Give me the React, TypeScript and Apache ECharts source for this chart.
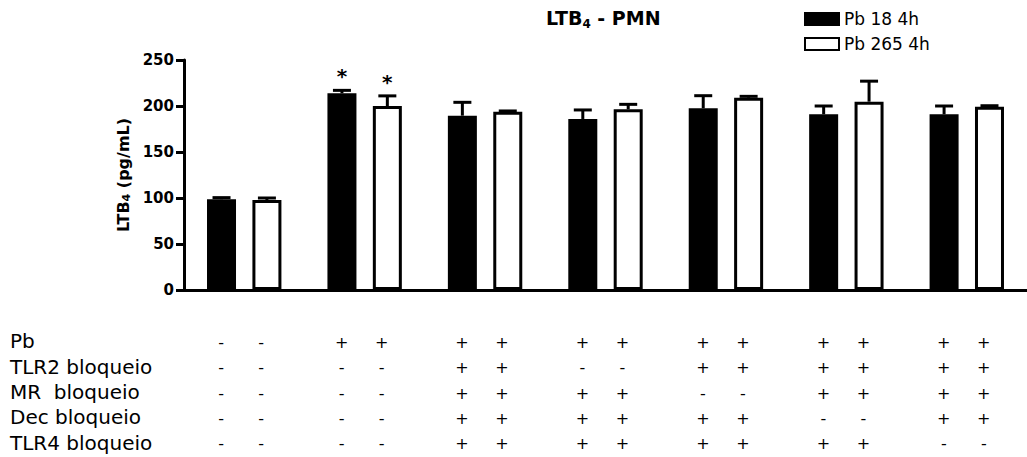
import React, { useEffect, useRef } from "react";
import * as echarts from "echarts";

// Group categories (one per treatment condition)
const groups = ["G1", "G2", "G3", "G4", "G5", "G6", "G7"];
const seriesNames = ["Pb 18 4h", "Pb 265 4h"];

// LTB4 (pg/mL) means and SEM
const pb18Values = [98.6, 213.8, 189.5, 185.9, 197.5, 191, 191];
const pb18Errors = [1.8, 3.2, 14.5, 9.8, 13.7, 9, 9];
const pb265Values = [97.8, 200, 193.8, 196.4, 209, 204.7, 199.3];
const pb265Errors = [2.2, 11, 0.8, 5.4, 1.5, 22.3, 1];
const pb18Significant = [false, true, false, false, false, false, false];
const pb265Significant = [false, true, false, false, false, false, false];

// Treatment table under the chart
const rowLabels = ["Pb", "TLR2 bloqueio", "MR  bloqueio", "Dec bloqueio", "TLR4 bloqueio"];
const rowPb = ["-", "+", "+", "+", "+", "+", "+"];
const rowTlr2 = ["-", "-", "+", "-", "+", "+", "+"];
const rowMr = ["-", "-", "+", "+", "-", "+", "+"];
const rowDec = ["-", "-", "+", "+", "+", "-", "+"];
const rowTlr4 = ["-", "-", "+", "+", "+", "+", "-"];
const tableRows = [rowPb, rowTlr2, rowMr, rowDec, rowTlr4];

const yTicks = { min: 0, max: 250, interval: 50 };

const FONT = "DejaVu Sans, Liberation Sans, Arial, sans-serif";
const BAR_W = 29;
const BAR_OFFSET = 22.7;
const ROW_H = 25.3;

function errorSeries(values: number[], errors: number[], sig: boolean[], offset: number) {
  return {
    type: "custom",
    z: 5,
    data: values.map((v, i) => [i, v, errors[i], sig[i] ? 1 : 0]),
    encode: { x: 0, y: 1 },
    renderItem: (params: any, api: any) => {
      const base = api.coord([api.value(0), api.value(1)]);
      const top = api.coord([api.value(0), api.value(1) + api.value(2)]);
      const cx = base[0] + offset;
      const children: any[] = [
        {
          type: "line",
          shape: { x1: cx, y1: base[1], x2: cx, y2: top[1] },
          style: { stroke: "#000", lineWidth: 3 },
        },
        {
          type: "line",
          shape: { x1: cx - 9, y1: top[1], x2: cx + 9, y2: top[1] },
          style: { stroke: "#000", lineWidth: 3 },
        },
      ];
      if (api.value(3)) {
        children.push({
          type: "text",
          x: cx,
          y: top[1] - 4,
          style: {
            text: "*",
            fontSize: 20,
            fontWeight: "bold",
            fontFamily: FONT,
            fill: "#000",
            align: "center",
            verticalAlign: "bottom",
          },
        });
      }
      return { type: "group", children };
    },
  };
}

export default function App() {
  const ref = useRef<HTMLDivElement>(null);

  useEffect(() => {
    document.body.style.margin = "0";
    if (!ref.current) return;
    const chart = echarts.init(ref.current, undefined, { renderer: "svg" });

    const option: any = {
      animation: false,
      backgroundColor: "#fff",
      textStyle: { fontFamily: FONT },
      title: {
        text: "LTB{sub|4} - PMN",
        left: 546,
        top: 6,
        padding: 0,
        textStyle: {
          fontFamily: FONT,
          fontSize: 19,
          fontWeight: "bold",
          color: "#000",
          lineHeight: 24,
          rich: {
            sub: {
              fontFamily: FONT,
              fontSize: 12,
              fontWeight: "bold",
              color: "#000",
              verticalAlign: "bottom",
              lineHeight: 20,
            },
          },
        },
      },
      legend: {
        orient: "vertical",
        left: 804,
        top: 9,
        padding: 0,
        icon: "rect",
        itemWidth: 34,
        itemHeight: 12,
        itemGap: 5,
        textStyle: { fontFamily: FONT, fontSize: 17, color: "#000", lineHeight: 20 },
        data: seriesNames,
      },
      grid: { left: 184, right: -3, top: 60, bottom: 167, containLabel: false },
      xAxis: {
        type: "category",
        data: groups,
        axisLine: { lineStyle: { color: "#000", width: 3 } },
        axisTick: { alignWithLabel: true, length: 6, lineStyle: { color: "#000", width: 3 } },
        axisLabel: {
          margin: 40,
          interval: 0,
          formatter: (_v: string, idx: number) =>
            tableRows.map((r) => `{s|${r[idx]}}{s|${r[idx]}}{p|}`).join("\n"),
          rich: {
            s: {
              width: 40,
              align: "center",
              fontSize: 16,
              fontFamily: FONT,
              color: "#000",
              lineHeight: ROW_H,
            },
            p: { width: 6, lineHeight: ROW_H },
          },
        },
      },
      yAxis: {
        type: "value",
        min: yTicks.min,
        max: yTicks.max,
        interval: yTicks.interval,
        name: "LTB{sub|4} (pg/mL)",
        nameLocation: "middle",
        nameGap: 50,
        nameTextStyle: {
          fontFamily: FONT,
          fontSize: 16,
          fontWeight: "bold",
          color: "#000",
          rich: {
            sub: {
              fontFamily: FONT,
              fontSize: 11,
              fontWeight: "bold",
              color: "#000",
              verticalAlign: "bottom",
            },
          },
        },
        splitLine: { show: false },
        axisLine: { show: true, lineStyle: { color: "#000", width: 3 } },
        axisTick: { show: true, length: 8, lineStyle: { color: "#000", width: 3 } },
        axisLabel: {
          margin: 10,
          fontFamily: FONT,
          fontSize: 15,
          fontWeight: "bold",
          color: "#000",
        },
      },
      series: [
        {
          name: seriesNames[0],
          type: "bar",
          data: pb18Values,
          barWidth: BAR_W,
          barGap: ((2 * BAR_OFFSET - BAR_W) / BAR_W) * 100 + "%",
          itemStyle: { color: "#000", borderColor: "#000", borderWidth: 3 },
        },
        {
          name: seriesNames[1],
          type: "bar",
          data: pb265Values,
          barWidth: BAR_W,
          itemStyle: { color: "#fff", borderColor: "#000", borderWidth: 3 },
        },
        errorSeries(pb18Values, pb18Errors, pb18Significant, -BAR_OFFSET),
        errorSeries(pb265Values, pb265Errors, pb265Significant, BAR_OFFSET),
      ],
      graphic: rowLabels.map((t, i) => ({
        type: "text",
        left: 10,
        top: 343 - ROW_H / 2 + i * ROW_H + 1,
        style: { text: t, fontFamily: FONT, fontSize: 20, fill: "#000" },
      })),
    };

    chart.setOption(option);
    return () => chart.dispose();
  }, []);

  return <div ref={ref} style={{ width: 1027, height: 457 }} />;
}
